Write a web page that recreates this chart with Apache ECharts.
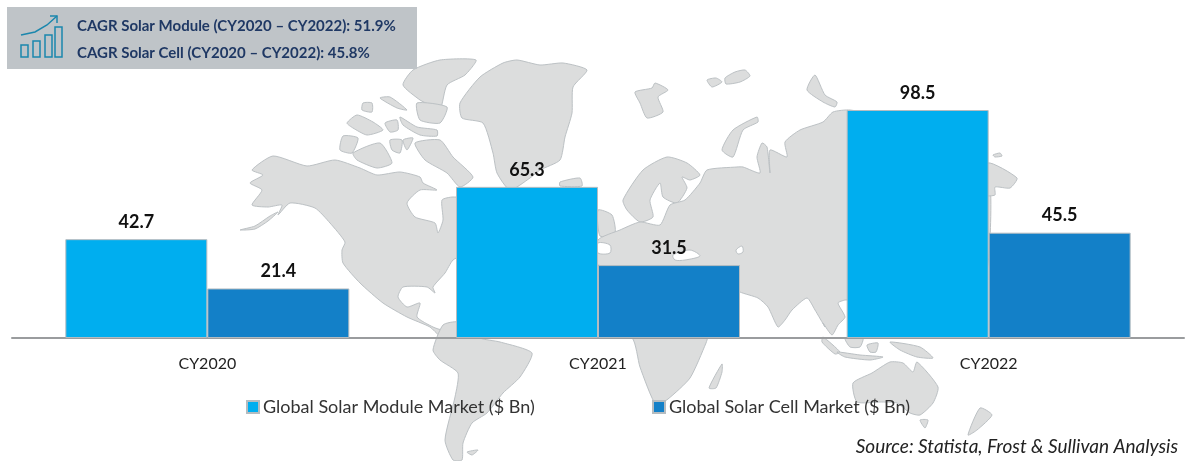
<!DOCTYPE html>
<html>
<head>
<meta charset="utf-8">
<script src="https://cdn.jsdelivr.net/npm/echarts@6/dist/echarts.min.js"></script>
<style>
html,body{margin:0;padding:0;background:#fff;}
#main{width:1187px;height:461px;}
</style>
</head>
<body>
<div id="main"></div>
<script>
var categories = ['CY2020', 'CY2021', 'CY2022'];
var moduleValues = [42.7, 65.3, 98.5];
var cellValues = [21.4, 31.5, 45.5];
var moduleName = 'Global Solar Module Market ($ Bn)';
var cellName = 'Global Solar Cell Market ($ Bn)';
var cagrLines = ['CAGR Solar Module (CY2020 – CY2022): 51.9%', 'CAGR Solar Cell (CY2020 – CY2022): 45.8%'];
var sourceText = 'Source: Statista, Frost & Sullivan Analysis';

// backdrop world map, rough outlines in page pixels (decoration, not data)
var mapShapes = [
	// north america
	[[252,170],[273,156],[307,166],[335,160],[360,168],[377,175],[400,172],[420,177],[423,183],[437,190],[420,190],[407,203],[415,217],[435,223],[438,233],[443,220],[442,200],[453,197],[470,200],[470,250],[453,260],[445,273],[433,287],[435,293],[427,287],[403,287],[398,297],[407,307],[420,303],[417,317],[433,327],[443,330],[458,325],[458,340],[440,336],[430,327],[407,317],[383,303],[360,283],[343,263],[342,250],[345,242],[330,223],[315,208],[290,203],[278,215],[282,205],[268,207],[252,205],[262,190],[250,183],[263,175]],
	[[240,230],[255,226],[270,216],[278,212],[268,221],[255,229]],
	// arctic islands
	[[415,143],[440,140],[453,157],[473,177],[460,187],[447,173],[425,160]],
	[[353,153],[380,143],[392,163],[377,168],[357,160]],
	[[340,150],[343,136],[358,138],[352,153]],
	[[390,140],[402,140],[400,153],[392,150]],
	[[403,140],[413,138],[407,150]],
	[[413,70],[440,60],[476,60],[465,75],[447,85],[440,110],[430,105],[420,100],[403,85]],
	[[400,117],[417,127],[437,130],[437,136],[420,135],[403,125]],
	[[347,123],[357,115],[373,122],[383,130],[367,135],[353,128]],
	[[380,98],[390,97],[407,110],[397,108]],
	[[385,123],[397,120],[398,130],[390,132]],
	[[417,103],[447,107],[440,123],[420,120]],
	[[363,103],[372,103],[372,112],[362,110]],
	// greenland, iceland
	[[460,103],[480,77],[503,63],[517,60],[540,65],[563,63],[587,70],[573,87],[572,113],[565,137],[560,160],[540,170],[530,178],[510,190],[497,173],[493,153],[483,123],[462,118]],
	[[560,182],[580,178],[582,186],[560,186]],
	// south america
	[[433,350],[443,325],[458,322],[480,338],[500,342],[532,353],[520,377],[503,393],[487,413],[472,423],[463,443],[462,460],[453,460],[445,440],[455,397],[458,373],[440,360]],
	[[467,452],[478,450],[472,455]],
	// africa
	[[600,260],[720,270],[730,300],[712,325],[706,343],[690,378],[668,399],[656,405],[640,367],[632,338],[600,335]],
	[[722,364],[709,388],[716,388],[722,372]],
	// scandinavia
	[[623,200],[643,170],[667,157],[687,163],[700,175],[690,180],[682,177],[687,188],[677,203],[663,197],[660,183],[650,200],[653,217],[640,222],[627,210]],
	// uk
	[[598,210],[612,215],[615,233],[600,236]],
	// europe and asia
	[[598,265],[598,240],[620,230],[640,222],[660,225],[670,205],[685,200],[700,183],[707,170],[737,167],[743,167],[760,173],[757,157],[762,143],[767,147],[770,173],[770,150],[787,157],[785,142],[800,130],[823,122],[833,112],[850,110],[900,120],[985,160],[990,240],[980,300],[930,330],[880,290],[850,300],[845,300],[838,303],[845,317],[838,325],[832,335],[823,323],[825,327],[815,310],[807,298],[792,310],[785,320],[778,327],[768,307],[758,298],[740,292],[700,270]],
	// inner seas cut out of the land
	// islands of the north
	[[635,92],[652,88],[655,83],[668,90],[658,97],[663,112],[647,118],[640,103]],
	[[707,80],[716,78],[722,82],[712,87]],
	[[725,78],[735,72],[745,70],[750,76],[740,82],[726,84]],
	[[807,90],[815,75],[825,95],[837,102],[835,107],[823,102]],
	[[722,150],[733,130],[757,117],[758,122],[743,130],[733,157]],
	[[988,163],[1017,178],[1010,188],[995,187],[995,195],[985,195]],
	[[993,155],[1000,153],[1002,156],[995,157]],
	// sea islands and australia
	[[823,337],[840,352],[835,354],[822,342]],
	[[837,352],[860,355],[883,357],[870,360],[845,357]],
	[[845,338],[863,338],[860,347],[850,347]],
	[[867,345],[878,343],[876,352],[870,352]],
	[[890,342],[920,347],[933,358],[917,357],[900,350]],
	[[853,383],[872,373],[890,362],[903,363],[913,372],[917,362],[938,387],[933,403],[920,415],[910,413],[897,403],[880,402],[857,402]],
	[[920,420],[928,420],[925,428]],
	[[980,408],[992,415],[977,430],[968,435]]
];

// seas that show white through the land
var seaShapes = [
	[[598,243],[610,245],[610,253],[598,253]],
	[[673,255],[690,250],[700,256],[685,260],[675,260]],
	[[736,250],[742,246],[743,252],[738,254]]
];

var mapGraphics = mapShapes.map(function (pts) {
	return {
		type: 'polygon',
		silent: true,
		shape: { points: pts, smooth: 0.2 },
		style: { fill: '#dcdddd', stroke: '#bcc1c4', lineWidth: 1 }
	};
}).concat(seaShapes.map(function (pts) {
	return {
		type: 'polygon',
		silent: true,
		shape: { points: pts, smooth: 0.3 },
		style: { fill: '#fff', stroke: '#bcc1c4', lineWidth: 1 }
	};
}));

var myCharts = echarts.init(document.getElementById('main'));
var labelStyle = {
	show: true,
	position: 'top',
	distance: 8,
	fontFamily: 'Lato',
	fontWeight: 'bold',
	fontSize: 18,
	color: '#111'
};
var legendText = { fontFamily: 'Lato', fontSize: 18, color: '#333', padding: [0, 0, 0, -1] };
var option = {
	animation: false,
	backgroundColor: '#fff',
	legend: [{
		data: [moduleName],
		left: 246,
		top: 398,
		padding: 0,
		icon: 'rect',
		itemWidth: 12,
		itemHeight: 12,
		textStyle: legendText
	}, {
		data: [cellName],
		left: 652,
		top: 398,
		padding: 0,
		icon: 'rect',
		itemWidth: 12,
		itemHeight: 12,
		textStyle: legendText
	}],
	grid: { left: 12, right: 3, top: 110, height: 228 },
	xAxis: {
		type: 'category',
		data: categories,
		axisTick: { show: false },
		axisLine: { lineStyle: { color: '#9a9c9e', width: 2 } },
		axisLabel: { fontFamily: 'Lato', fontSize: 16, color: '#222', margin: 18 }
	},
	yAxis: { type: 'value', min: 0, max: 98.5, show: false, splitLine: { show: false } },
	series: [{
		name: moduleName,
		type: 'bar',
		barWidth: 142,
		barGap: 0,
		itemStyle: { color: '#00aeef', borderColor: '#b5bcc0', borderWidth: 1 },
		label: labelStyle,
		data: moduleValues
	}, {
		name: cellName,
		type: 'bar',
		barWidth: 142,
		itemStyle: { color: '#1380c8', borderColor: '#b5bcc0', borderWidth: 1 },
		label: labelStyle,
		data: cellValues
	}],
	graphic: {
		elements: mapGraphics.concat([
			{ type: 'rect', z: 10, silent: true, shape: { x: 7, y: 7, width: 410, height: 62 }, style: { fill: '#bfc4c8' } },
			{ type: 'text', z: 11, left: 77, top: 19, style: { text: cagrLines[0], fontFamily: 'Lato', fontWeight: 'bold', fontSize: 15, fill: '#1f3864' } },
			{ type: 'text', z: 11, left: 77, top: 46, style: { text: cagrLines[1], fontFamily: 'Lato', fontWeight: 'bold', fontSize: 15, fill: '#1f3864' } },
			// little growth icon in the box
			{ type: 'rect', z: 11, silent: true, shape: { x: 21, y: 45, width: 7, height: 12 }, style: { fill: 'none', stroke: '#1b87ad', lineWidth: 1.5 } },
			{ type: 'rect', z: 11, silent: true, shape: { x: 33, y: 41, width: 7, height: 16 }, style: { fill: 'none', stroke: '#1b87ad', lineWidth: 1.5 } },
			{ type: 'rect', z: 11, silent: true, shape: { x: 45, y: 35, width: 7, height: 22 }, style: { fill: 'none', stroke: '#1b87ad', lineWidth: 1.5 } },
			{ type: 'rect', z: 11, silent: true, shape: { x: 55, y: 27, width: 7, height: 30 }, style: { fill: 'none', stroke: '#1b87ad', lineWidth: 1.5 } },
			{ type: 'polyline', z: 11, silent: true, shape: { points: [[21,35],[35,32],[47,25],[57,16]] }, style: { fill: 'none', stroke: '#1b87ad', lineWidth: 1.5 } },
			{ type: 'polyline', z: 11, silent: true, shape: { points: [[50,16],[57,16],[57,23]] }, style: { fill: 'none', stroke: '#1b87ad', lineWidth: 1.5 } },
			{ type: 'text', z: 11, right: 9, top: 437, style: { text: sourceText, fontFamily: 'Lato', fontStyle: 'italic', fontSize: 19, fill: '#222' } }
		])
	}
};
myCharts.setOption(option);
</script>
</body>
</html>
